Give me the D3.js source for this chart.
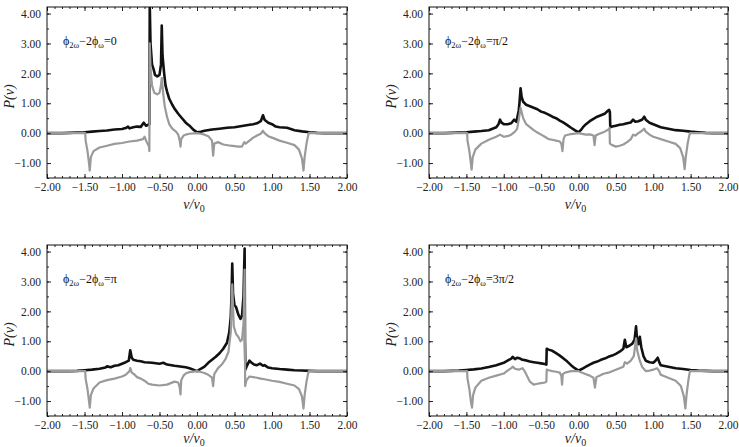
<!DOCTYPE html>
<html>
<head>
<meta charset="utf-8">
<script src="https://cdn.jsdelivr.net/npm/d3@7"></script>
<style>
  body { margin: 0; background: #fff; }
</style>
</head>
<body>
<script>
// phase labels for the four panels
const phases = ["0", "π/2", "π", "3π/2"];

// [v/v0, P(v)]; black = total, grey = asymmetric part
const black0 = [[-2,0],[-1.8,0],[-1.7,0.01],[-1.6,0.02],[-1.5,0.03],[-1.4,0.05],[-1.3,0.07],[-1.2,0.09],[-1.1,0.12],[-1.0,0.14],[-0.95,0.17],[-0.92,0.22],[-0.9,0.16],[-0.85,0.2],[-0.8,0.22],[-0.75,0.21],[-0.71,0.35],[-0.68,0.25],[-0.65,0.28],[-0.635,0.3],[-0.63,4.3],[-0.62,3.0],[-0.6,2.3],[-0.58,2.15],[-0.56,1.95],[-0.53,1.9],[-0.5,1.95],[-0.48,2.3],[-0.47,3.6],[-0.46,2.6],[-0.44,2.05],[-0.42,1.6],[-0.4,1.4],[-0.37,1.15],[-0.33,0.95],[-0.3,0.82],[-0.25,0.65],[-0.2,0.5],[-0.15,0.35],[-0.1,0.25],[-0.05,0.12],[0,0.03],[0.05,0.05],[0.1,0.08],[0.2,0.12],[0.3,0.15],[0.4,0.18],[0.5,0.2],[0.6,0.24],[0.7,0.28],[0.75,0.3],[0.8,0.33],[0.85,0.4],[0.88,0.6],[0.9,0.45],[0.95,0.35],[1.0,0.3],[1.05,0.22],[1.1,0.2],[1.2,0.18],[1.3,0.1],[1.4,0.06],[1.5,0.03],[1.6,0.01],[1.7,0],[2,0]];
const grey0 = [[-2,0],[-1.49,0],[-1.485,-0.25],[-1.46,-0.6],[-1.44,-1.0],[-1.43,-1.25],[-1.415,-0.8],[-1.38,-0.6],[-1.3,-0.48],[-1.2,-0.42],[-1.1,-0.36],[-1.0,-0.33],[-0.9,-0.28],[-0.8,-0.25],[-0.72,-0.2],[-0.7,-0.12],[-0.67,-0.3],[-0.64,-0.45],[-0.635,-0.6],[-0.63,3.0],[-0.62,2.2],[-0.6,1.6],[-0.57,1.35],[-0.53,1.3],[-0.5,1.35],[-0.48,1.6],[-0.47,1.85],[-0.45,1.3],[-0.43,0.9],[-0.4,0.55],[-0.37,0.3],[-0.33,0.15],[-0.28,0.05],[-0.25,-0.05],[-0.23,-0.25],[-0.22,-0.45],[-0.21,-0.2],[-0.18,-0.08],[-0.15,-0.05],[-0.1,-0.02],[0,0],[0.05,-0.02],[0.1,-0.05],[0.15,-0.1],[0.2,-0.25],[0.215,-0.75],[0.23,-0.35],[0.28,-0.3],[0.35,-0.38],[0.45,-0.42],[0.55,-0.45],[0.6,-0.45],[0.63,-0.3],[0.65,-0.35],[0.7,-0.25],[0.75,-0.15],[0.8,-0.08],[0.85,-0.02],[0.88,0.08],[0.9,0.0],[0.95,-0.1],[1.0,-0.15],[1.1,-0.25],[1.2,-0.32],[1.3,-0.4],[1.36,-0.55],[1.4,-0.85],[1.42,-1.25],[1.435,-0.8],[1.46,-0.35],[1.48,-0.1],[1.49,0],[2,0]];

const black1 = [[-2,0],[-1.8,0],[-1.7,0.01],[-1.6,0.02],[-1.5,0.03],[-1.4,0.05],[-1.3,0.07],[-1.2,0.1],[-1.15,0.15],[-1.1,0.2],[-1.07,0.3],[-1.05,0.45],[-1.03,0.35],[-1.0,0.3],[-0.95,0.3],[-0.9,0.33],[-0.86,0.45],[-0.83,0.38],[-0.8,0.75],[-0.79,1.0],[-0.775,1.5],[-0.76,1.2],[-0.74,1.05],[-0.7,0.95],[-0.65,0.9],[-0.6,0.85],[-0.55,0.8],[-0.5,0.72],[-0.45,0.68],[-0.4,0.62],[-0.35,0.55],[-0.3,0.5],[-0.25,0.42],[-0.2,0.35],[-0.15,0.27],[-0.1,0.18],[-0.05,0.1],[0,0.03],[0.03,0.1],[0.06,0.2],[0.1,0.3],[0.15,0.4],[0.2,0.48],[0.25,0.55],[0.3,0.6],[0.35,0.65],[0.38,0.72],[0.41,0.78],[0.42,0.7],[0.425,0.2],[0.45,0.22],[0.5,0.25],[0.55,0.28],[0.6,0.3],[0.65,0.33],[0.7,0.36],[0.73,0.45],[0.76,0.38],[0.8,0.4],[0.85,0.45],[0.88,0.55],[0.9,0.45],[0.95,0.35],[1.0,0.3],[1.05,0.25],[1.1,0.2],[1.2,0.15],[1.3,0.1],[1.4,0.08],[1.5,0.05],[1.6,0.03],[1.7,0.01],[1.8,0],[2,0]];
const grey1 = [[-2,0],[-1.49,0],[-1.485,-0.25],[-1.46,-0.6],[-1.44,-1.0],[-1.43,-1.22],[-1.415,-0.8],[-1.38,-0.55],[-1.3,-0.35],[-1.2,-0.22],[-1.1,-0.12],[-1.05,-0.05],[-1.0,-0.12],[-0.95,-0.1],[-0.9,-0.05],[-0.85,0.05],[-0.82,0.15],[-0.8,0.45],[-0.775,0.85],[-0.76,0.7],[-0.74,0.5],[-0.7,0.3],[-0.65,0.2],[-0.6,0.1],[-0.55,0.02],[-0.5,-0.05],[-0.45,-0.12],[-0.4,-0.2],[-0.35,-0.22],[-0.3,-0.25],[-0.25,-0.28],[-0.23,-0.35],[-0.215,-0.6],[-0.2,-0.2],[-0.18,-0.08],[-0.1,-0.03],[0,0],[0.1,-0.05],[0.15,-0.04],[0.2,-0.08],[0.215,-0.4],[0.23,-0.08],[0.28,-0.02],[0.35,0.05],[0.4,0.12],[0.415,0.18],[0.42,-0.35],[0.45,-0.4],[0.5,-0.45],[0.55,-0.42],[0.6,-0.38],[0.65,-0.3],[0.7,-0.2],[0.73,-0.05],[0.76,-0.08],[0.8,0.0],[0.85,0.08],[0.88,0.15],[0.9,0.05],[0.95,-0.05],[1.0,-0.12],[1.1,-0.2],[1.2,-0.28],[1.3,-0.36],[1.36,-0.5],[1.4,-0.8],[1.42,-1.2],[1.435,-0.8],[1.46,-0.35],[1.48,-0.1],[1.49,0],[2,0]];

const black2 = [[-2,0],[-1.7,0],[-1.6,0.01],[-1.5,0.03],[-1.4,0.05],[-1.3,0.08],[-1.22,0.12],[-1.2,0.16],[-1.15,0.13],[-1.1,0.18],[-1.05,0.2],[-1.0,0.25],[-0.95,0.3],[-0.91,0.35],[-0.89,0.7],[-0.87,0.45],[-0.85,0.38],[-0.8,0.35],[-0.75,0.33],[-0.7,0.3],[-0.6,0.28],[-0.5,0.25],[-0.45,0.28],[-0.4,0.22],[-0.3,0.18],[-0.2,0.15],[-0.15,0.13],[-0.1,0.1],[-0.05,0.05],[0,0.0],[0.05,0.08],[0.1,0.15],[0.15,0.28],[0.2,0.38],[0.25,0.48],[0.3,0.6],[0.35,0.75],[0.4,0.95],[0.43,1.3],[0.45,1.8],[0.46,2.5],[0.47,3.6],[0.48,2.6],[0.5,2.2],[0.52,2.15],[0.55,1.9],[0.58,1.75],[0.6,1.85],[0.62,2.5],[0.635,4.1],[0.64,1.0],[0.645,0.05],[0.66,0.15],[0.68,0.25],[0.7,0.35],[0.72,0.3],[0.76,0.22],[0.8,0.2],[0.84,0.25],[0.88,0.18],[0.9,0.2],[0.95,0.12],[1.0,0.1],[1.1,0.07],[1.2,0.05],[1.3,0.03],[1.4,0.02],[1.5,0.01],[1.6,0],[2,0]];
const grey2 = [[-2,0],[-1.49,0],[-1.485,-0.25],[-1.46,-0.6],[-1.44,-1.0],[-1.43,-1.22],[-1.415,-0.8],[-1.38,-0.58],[-1.3,-0.38],[-1.2,-0.3],[-1.1,-0.25],[-1.0,-0.18],[-0.95,-0.12],[-0.9,0.0],[-0.89,0.1],[-0.87,-0.05],[-0.83,-0.12],[-0.8,-0.2],[-0.75,-0.25],[-0.7,-0.32],[-0.65,-0.42],[-0.6,-0.45],[-0.5,-0.48],[-0.4,-0.45],[-0.35,-0.4],[-0.3,-0.35],[-0.25,-0.38],[-0.23,-0.55],[-0.22,-0.78],[-0.21,-0.3],[-0.18,-0.15],[-0.15,-0.08],[-0.1,-0.03],[0,0],[0.05,-0.03],[0.1,-0.06],[0.15,-0.12],[0.2,-0.22],[0.215,-0.5],[0.23,-0.1],[0.28,0.1],[0.33,0.22],[0.38,0.4],[0.42,0.65],[0.45,1.3],[0.47,2.9],[0.49,1.5],[0.52,1.25],[0.55,1.15],[0.58,1.0],[0.6,1.05],[0.62,1.6],[0.635,3.4],[0.642,-0.5],[0.66,-0.3],[0.7,-0.18],[0.75,-0.2],[0.8,-0.22],[0.85,-0.25],[0.9,-0.27],[1.0,-0.32],[1.1,-0.36],[1.2,-0.42],[1.3,-0.48],[1.36,-0.6],[1.4,-0.85],[1.42,-1.25],[1.435,-0.8],[1.46,-0.35],[1.48,-0.1],[1.49,0],[2,0]];

const black3 = [[-2,0],[-1.8,0],[-1.7,0.01],[-1.6,0.02],[-1.5,0.04],[-1.4,0.06],[-1.3,0.09],[-1.2,0.14],[-1.1,0.2],[-1.0,0.28],[-0.95,0.35],[-0.9,0.42],[-0.88,0.48],[-0.85,0.4],[-0.82,0.45],[-0.78,0.42],[-0.75,0.38],[-0.7,0.36],[-0.65,0.32],[-0.6,0.3],[-0.55,0.28],[-0.5,0.26],[-0.45,0.24],[-0.43,0.22],[-0.425,0.75],[-0.4,0.72],[-0.35,0.68],[-0.3,0.6],[-0.25,0.52],[-0.2,0.42],[-0.15,0.32],[-0.1,0.2],[-0.05,0.1],[0,0.02],[0.05,0.08],[0.1,0.15],[0.15,0.22],[0.2,0.28],[0.25,0.32],[0.3,0.38],[0.35,0.42],[0.4,0.48],[0.45,0.52],[0.5,0.58],[0.55,0.65],[0.6,0.75],[0.62,1.05],[0.64,0.8],[0.68,0.85],[0.72,0.92],[0.75,1.05],[0.77,1.5],[0.785,1.0],[0.8,0.9],[0.82,1.15],[0.84,0.8],[0.87,0.5],[0.9,0.35],[0.95,0.3],[1.0,0.28],[1.03,0.35],[1.06,0.45],[1.08,0.3],[1.1,0.2],[1.2,0.15],[1.3,0.1],[1.4,0.07],[1.5,0.04],[1.6,0.02],[1.7,0.01],[1.8,0],[2,0]];
const grey3 = [[-2,0],[-1.49,0],[-1.485,-0.25],[-1.46,-0.6],[-1.44,-1.0],[-1.425,-1.22],[-1.41,-0.8],[-1.38,-0.55],[-1.3,-0.32],[-1.2,-0.22],[-1.1,-0.15],[-1.0,-0.08],[-0.95,0.02],[-0.9,0.1],[-0.88,0.15],[-0.85,0.08],[-0.8,0.05],[-0.75,0.1],[-0.72,0.0],[-0.68,-0.2],[-0.65,-0.35],[-0.6,-0.45],[-0.55,-0.42],[-0.5,-0.4],[-0.45,-0.38],[-0.43,-0.35],[-0.425,0.05],[-0.4,0.03],[-0.35,0.0],[-0.3,-0.02],[-0.25,-0.05],[-0.23,-0.15],[-0.22,-0.45],[-0.21,-0.1],[-0.18,-0.05],[-0.1,0.0],[0,0],[0.05,-0.05],[0.1,-0.1],[0.15,-0.15],[0.2,-0.22],[0.22,-0.55],[0.24,-0.2],[0.28,-0.15],[0.32,-0.1],[0.35,-0.08],[0.4,-0.05],[0.45,0.0],[0.5,0.05],[0.55,0.1],[0.6,0.15],[0.62,0.3],[0.65,0.25],[0.7,0.35],[0.74,0.5],[0.77,1.1],[0.785,0.7],[0.8,0.55],[0.82,0.35],[0.85,0.15],[0.9,0.0],[0.95,0.02],[1.0,0.05],[1.05,0.1],[1.08,0.0],[1.1,-0.12],[1.2,-0.22],[1.3,-0.32],[1.37,-0.5],[1.41,-0.85],[1.43,-1.25],[1.445,-0.8],[1.47,-0.3],[1.49,0],[2,0]];

const xTicks = [-2, -1.5, -1, -0.5, 0, 0.5, 1, 1.5, 2];
const yTicks = [-1, 0, 1, 2, 3, 4];

const width = 739, height = 447;
const serif = "'Liberation Serif', 'Times New Roman', 'DejaVu Serif', serif";
const panels = [
  {x0: 47,  x1: 347, y0: 7,   y1: 178, black: black0, grey: grey0, phase: phases[0]},
  {x0: 429, x1: 728, y0: 7,   y1: 178, black: black1, grey: grey1, phase: phases[1]},
  {x0: 47,  x1: 347, y0: 245, y1: 416, black: black2, grey: grey2, phase: phases[2]},
  {x0: 429, x1: 728, y0: 245, y1: 416, black: black3, grey: grey3, phase: phases[3]}
];

const svg = d3.select("body").append("svg")
    .attr("width", width)
    .attr("height", height);

const fmt = d3.format(".2f");

panels.forEach((p, i) => {
  const x = d3.scaleLinear().domain([-2, 2]).range([p.x0, p.x1]);
  const y = d3.scaleLinear().domain([-1.5, 4.22]).range([p.y1, p.y0]);
  const g = svg.append("g");

  g.append("clipPath").attr("id", "clip" + i)
    .append("rect")
    .attr("x", p.x0).attr("y", p.y0)
    .attr("width", p.x1 - p.x0).attr("height", p.y1 - p.y0);

  const line = d3.line().x(d => x(d[0])).y(d => y(d[1]));

  const plot = g.append("g").attr("clip-path", `url(#clip${i})`);
  plot.append("path")
    .attr("d", line(p.black))
    .attr("fill", "none")
    .attr("stroke", "#111")
    .attr("stroke-width", 2.6)
    .attr("stroke-linejoin", "round");
  plot.append("path")
    .attr("d", line(p.grey))
    .attr("fill", "none")
    .attr("stroke", "#9a9a9a")
    .attr("stroke-width", 2.2)
    .attr("stroke-linejoin", "round");

  // axes: inward ticks on all four sides
  const minorX = d3.range(-2, 2.001, 0.1);
  const minorY = d3.range(-1.5, 4.2, 0.5);

  g.append("g").attr("transform", `translate(0,${p.y1})`)
    .call(d3.axisBottom(x).tickValues(minorX).tickSize(-2).tickFormat(""))
    .call(a => a.select(".domain").remove());
  g.append("g").attr("transform", `translate(0,${p.y1})`)
    .call(d3.axisBottom(x).tickValues(xTicks).tickSize(-4).tickPadding(5).tickFormat(fmt))
    .call(a => a.select(".domain").remove());
  g.append("g").attr("transform", `translate(0,${p.y0})`)
    .call(d3.axisTop(x).tickValues(minorX).tickSize(-2).tickFormat(""))
    .call(a => a.select(".domain").remove());
  g.append("g").attr("transform", `translate(0,${p.y0})`)
    .call(d3.axisTop(x).tickValues(xTicks).tickSize(-4).tickFormat(""))
    .call(a => a.select(".domain").remove());

  g.append("g").attr("transform", `translate(${p.x0},0)`)
    .call(d3.axisLeft(y).tickValues(minorY).tickSize(-2).tickFormat(""))
    .call(a => a.select(".domain").remove());
  g.append("g").attr("transform", `translate(${p.x0},0)`)
    .call(d3.axisLeft(y).tickValues(yTicks).tickSize(-4).tickPadding(6).tickFormat(fmt))
    .call(a => a.select(".domain").remove());
  g.append("g").attr("transform", `translate(${p.x1},0)`)
    .call(d3.axisRight(y).tickValues(minorY).tickSize(-2).tickFormat(""))
    .call(a => a.select(".domain").remove());
  g.append("g").attr("transform", `translate(${p.x1},0)`)
    .call(d3.axisRight(y).tickValues(yTicks).tickSize(-4).tickFormat(""))
    .call(a => a.select(".domain").remove());

  g.selectAll(".tick text")
    .style("font-size", "11.5px")
    .attr("fill", "#222");
  g.selectAll(".tick line").attr("stroke", "#222");

  g.append("rect")
    .attr("x", p.x0).attr("y", p.y0)
    .attr("width", p.x1 - p.x0).attr("height", p.y1 - p.y0)
    .attr("fill", "none")
    .attr("stroke", "#111")
    .attr("stroke-width", 1);

  // phase label
  const lab = g.append("text")
    .attr("x", p.x0 + 16)
    .attr("y", p.y0 + 38)
    .style("font-size", "12px")
    .attr("fill", "#111");
  lab.append("tspan").text("ϕ");
  lab.append("tspan").style("font-size", "8.5px").attr("dy", 3).text("2ω");
  lab.append("tspan").attr("dy", -3).text("−2ϕ");
  lab.append("tspan").style("font-size", "8.5px").attr("dy", 3).text("ω");
  lab.append("tspan").attr("dy", -3).text("=" + p.phase);

  // axis titles
  g.append("text")
    .attr("transform", `translate(${p.x0 - 33},${(p.y0 + p.y1) / 2 + 4}) rotate(-90)`)
    .attr("text-anchor", "middle")
    .style("font-size", "14px")
    .style("font-style", "italic")
    .attr("fill", "#222")
    .text("P(v)");

  const xl = g.append("text")
    .attr("x", (p.x0 + p.x1) / 2 - 3)
    .attr("y", Math.min(p.y1 + 31, 443))
    .attr("text-anchor", "middle")
    .style("font-size", "14px")
    .style("font-style", "italic")
    .attr("fill", "#222");
  xl.append("tspan").text("v/v");
  xl.append("tspan").style("font-size", "10px").style("font-style", "normal").attr("dy", 3).text("0");
});

svg.selectAll("text").style("font-family", serif);
</script>
</body>
</html>
